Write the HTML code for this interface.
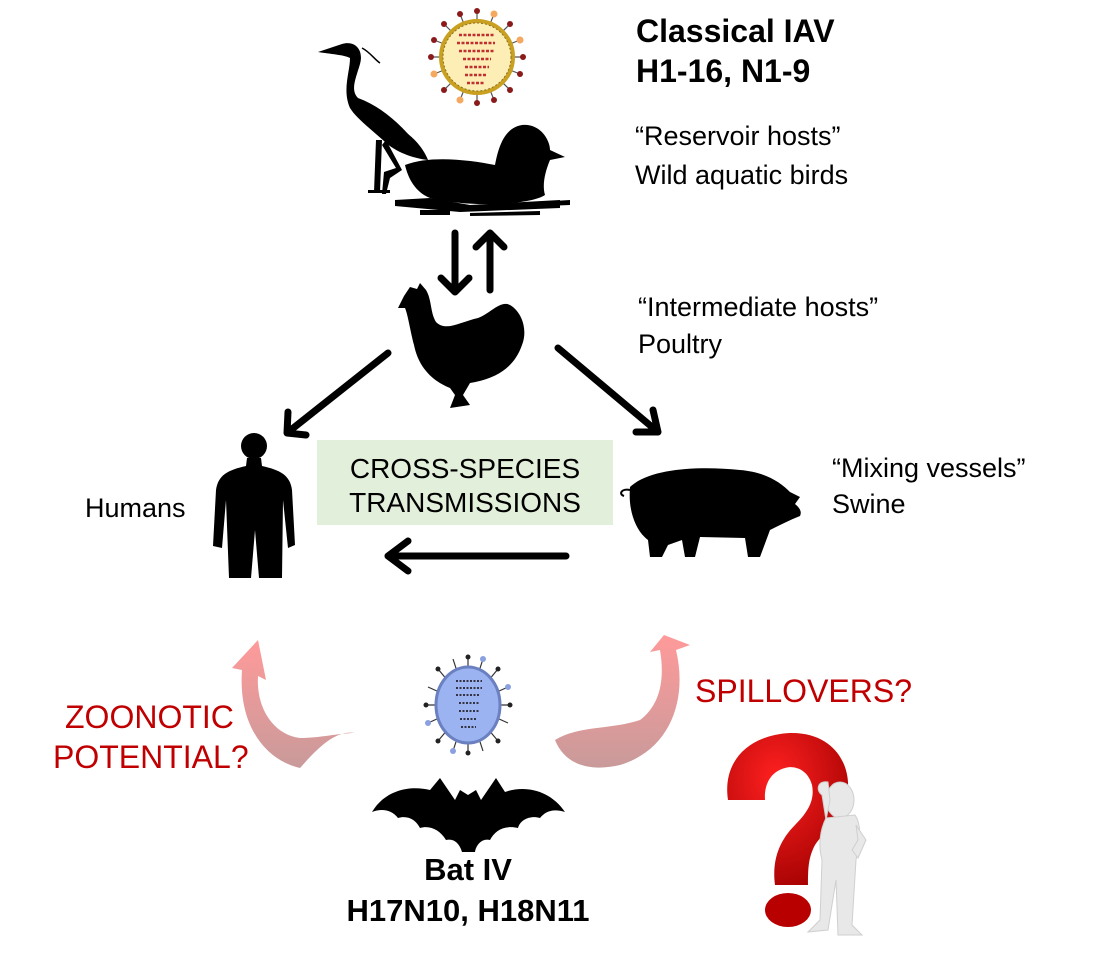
<!DOCTYPE html>
<html><head><meta charset="utf-8"><style>
html,body{margin:0;padding:0;background:#fff;}
svg{display:block;}
text{font-family:"Liberation Sans",Arial,sans-serif;}
</style></head><body>
<svg width="1093" height="955" viewBox="0 0 1093 955" xmlns="http://www.w3.org/2000/svg">
<defs>
<linearGradient id="pk" x1="0" y1="1" x2="0" y2="0">
<stop offset="0" stop-color="#c99a9a"/><stop offset="1" stop-color="#ff9a9a"/>
</linearGradient>
<radialGradient id="qm" cx="0.4" cy="0.3" r="0.8"><stop offset="0" stop-color="#ff2020"/><stop offset="1" stop-color="#a00000"/></radialGradient>
</defs>

<text x="636" y="42" font-size="32" font-weight="bold">Classical IAV</text>
<text x="636" y="82" font-size="32" font-weight="bold">H1-16, N1-9</text>
<text x="635" y="145" font-size="27">“Reservoir hosts”</text>
<text x="635" y="184" font-size="27">Wild aquatic birds</text>
<text x="638" y="316" font-size="27">“Intermediate hosts”</text>
<text x="638" y="353" font-size="27">Poultry</text>
<text x="832" y="477" font-size="27">“Mixing vessels”</text>
<text x="832" y="513" font-size="27">Swine</text>
<text x="85" y="517" font-size="27">Humans</text>

<rect x="317" y="440" width="296" height="85" fill="#e2efda"/>
<text x="465" y="478" font-size="28" text-anchor="middle">CROSS-SPECIES</text>
<text x="465" y="512" font-size="28" text-anchor="middle">TRANSMISSIONS</text>

<text x="65" y="728" font-size="32" fill="#c00000">ZOONOTIC</text>
<text x="53" y="768" font-size="32" fill="#c00000">POTENTIAL?</text>
<text x="695" y="702" font-size="32" fill="#c00000">SPILLOVERS?</text>

<text x="468" y="880" font-size="31" font-weight="bold" text-anchor="middle">Bat IV</text>
<text x="468" y="921" font-size="31" font-weight="bold" text-anchor="middle">H17N10, H18N11</text>

<g stroke="#000" stroke-width="7" fill="none" stroke-linecap="round" stroke-linejoin="round">
<path d="M455 233 L455 292 M441 278 L455 292 L469 278"/>
<path d="M490 290 L490 233 M476 247 L490 233 L504 247"/>
<path d="M388 353 L287 433 M288 412 L287 433 L306 435"/>
<path d="M558 348 L658 432 M653 410 L658 432 L636 432"/>
<path d="M566 556 L388 556 M408 541 L388 556 L408 571"/>
</g>

<path d="M355 733 C335 730 318 748 300 768 C265 760 238 725 242 670 L232 668 L258 640 L266 680 L258 676 C256 710 275 735 300 738 C320 738 340 733 355 733 Z" fill="url(#pk)"/>
<path d="M555 740 C580 725 610 730 640 720 C660 705 665 680 660 650 L650 652 L664 635 L690 645 L676 650 C688 700 670 750 620 765 C590 772 565 765 555 740 Z" fill="url(#pk)"/>

<g transform="translate(477,57)">
<g stroke="#555" stroke-width="1.2">
<line x1="0" y1="-46" x2="0" y2="46"/><line x1="-46" y1="0" x2="46" y2="0"/>
<line x1="-33" y1="-33" x2="33" y2="33"/><line x1="-33" y1="33" x2="33" y2="-33"/>
<line x1="-17" y1="-43" x2="17" y2="43"/><line x1="17" y1="-43" x2="-17" y2="43"/>
<line x1="-43" y1="-17" x2="43" y2="17"/><line x1="-43" y1="17" x2="43" y2="-17"/>
</g>
<g fill="#8b1a1a">
<circle cx="0" cy="-46" r="3"/><circle cx="0" cy="46" r="3"/><circle cx="-46" cy="0" r="3"/><circle cx="46" cy="0" r="3"/>
<circle cx="-33" cy="-33" r="3"/><circle cx="33" cy="33" r="3"/><circle cx="-33" cy="33" r="3"/><circle cx="33" cy="-33" r="3"/>
<circle cx="-17" cy="-43" r="3"/><circle cx="17" cy="43" r="3"/><circle cx="-43" cy="-17" r="3"/><circle cx="43" cy="17" r="3"/>
</g>
<g fill="#f5a860"><circle cx="17" cy="-43" r="3.5"/><circle cx="-17" cy="43" r="3.5"/><circle cx="-43" cy="17" r="3.5"/><circle cx="43" cy="-17" r="3.5"/></g>
<circle r="36" fill="#fdeeb5" stroke="#c9a020" stroke-width="4"/>
<circle r="34" fill="none" stroke="#8a7020" stroke-width="1" stroke-dasharray="2 2"/>
<g stroke="#c03030" stroke-width="2.5" stroke-dasharray="3 1.5">
<line x1="-18" y1="-22" x2="18" y2="-22"/><line x1="-20" y1="-14" x2="18" y2="-14"/><line x1="-18" y1="-6" x2="18" y2="-6"/>
<line x1="-14" y1="2" x2="14" y2="2"/><line x1="-12" y1="10" x2="12" y2="10"/><line x1="-12" y1="18" x2="10" y2="18"/><line x1="-10" y1="26" x2="8" y2="26"/>
</g>
</g>

<g fill="#000">
<!-- heron -->
<path d="M318 52 L342 44 C355 40 364 50 360 64 C356 78 350 90 358 98 C385 108 408 130 428 160 C412 158 396 152 385 142 C372 130 356 118 350 108 C342 90 350 72 350 58 C345 55 330 54 318 52 Z"/>
<path d="M380 120 C400 125 420 140 428 160 L410 150 Z"/>
<path d="M376 140 L382 140 L380 192 L374 192 Z"/>
<path d="M386 140 L402 170 L390 178 L386 194 L382 194 L384 172 L396 168 L382 145 Z"/>
<rect x="368" y="190" width="22" height="3"/>
<path d="M362 48 C370 52 375 60 380 63" stroke="#000" stroke-width="1.5" fill="none"/>
<!-- duck -->
<path d="M405 165 C430 155 470 160 495 165 C498 150 503 128 522 125 C540 123 550 140 550 150 L565 157 L550 160 C545 172 542 185 545 195 C530 205 470 208 430 198 C415 192 408 178 405 165 Z"/>
<path d="M395 200 L430 198 L470 205 L560 200 L560 208 L460 212 L395 206 Z"/>
<path d="M420 210 L450 210 L450 215 L420 215 Z"/>
<path d="M520 203 L570 200 L570 205 L520 207 Z"/>
<path d="M470 213 L540 211 L540 215 L470 216 Z"/>
</g>

<g fill="#000">
<path d="M404 296 L410 287 L417 289 L420 283 L426 290 C432 300 430 312 436 322 C446 332 460 322 478 318 C490 314 500 300 510 305 C522 312 528 330 522 345 C515 365 500 378 470 383 L463 395 L470 405 L450 408 L455 395 L450 388 C430 380 418 365 414 345 C410 330 408 315 405 308 L398 308 Z"/>
</g>

<g fill="#000">
<circle cx="254" cy="446" r="13"/>
<path d="M247 458 L261 458 L262 466 C280 470 290 475 292 490 L295 545 L288 548 L283 500 L282 578 L259 578 L255 530 L251 578 L229 578 L226 500 L222 548 L213 546 L216 490 C218 475 228 470 246 466 Z"/>
</g>

<g fill="#000">
<path d="M630 487 C650 468 700 466 740 470 C765 472 780 482 790 492 L800 497 L795 504 C800 508 802 512 800 516 C790 520 780 525 770 530 L760 557 L748 557 L745 538 L700 537 L695 557 L685 557 L682 540 L668 545 L662 557 L650 557 L648 540 C635 530 628 510 630 487 Z"/>
<path d="M630 490 C622 488 618 494 624 496" stroke="#000" stroke-width="2" fill="none"/>
</g>

<g transform="translate(468,705)">
<g stroke="#333" stroke-width="1.2">
<line x1="0" y1="-48" x2="0" y2="48"/><line x1="-42" y1="0" x2="42" y2="0"/>
<line x1="-30" y1="-36" x2="30" y2="36"/><line x1="-30" y1="36" x2="30" y2="-36"/>
<line x1="-15" y1="-46" x2="15" y2="46"/><line x1="15" y1="-46" x2="-15" y2="46"/>
<line x1="-40" y1="-18" x2="40" y2="18"/><line x1="-40" y1="18" x2="40" y2="-18"/>
</g>
<g fill="#222">
<circle cx="0" cy="-48" r="2.5"/><circle cx="0" cy="48" r="2.5"/><circle cx="-42" cy="0" r="2.5"/><circle cx="42" cy="0" r="2.5"/>
<circle cx="-30" cy="-36" r="2.5"/><circle cx="30" cy="36" r="2.5"/><circle cx="-30" cy="36" r="2.5"/><circle cx="30" cy="-36" r="2.5"/>
</g>
<g fill="#8aa0e0"><circle cx="15" cy="-46" r="3"/><circle cx="-15" cy="46" r="3"/><circle cx="-40" cy="18" r="3"/><circle cx="40" cy="-18" r="3"/></g>
<ellipse rx="32" ry="38" fill="#9bb3f0" stroke="#6a80c0" stroke-width="3"/>
<g stroke="#334" stroke-width="2" stroke-dasharray="2 1.5">
<line x1="-12" y1="-24" x2="14" y2="-24"/><line x1="-12" y1="-17" x2="14" y2="-17"/><line x1="-12" y1="-10" x2="12" y2="-10"/>
<line x1="-9" y1="-2" x2="12" y2="-2"/><line x1="-9" y1="6" x2="11" y2="6"/><line x1="-8" y1="14" x2="9" y2="14"/><line x1="-7" y1="22" x2="8" y2="22"/>
</g>
</g>

<g fill="#000">
<path d="M372 812 C385 790 410 785 430 790 L440 778 L455 800 L460 790 L468 795 L476 790 L481 800 L496 778 L505 792 C525 785 550 790 565 812 C552 808 545 812 540 818 C530 815 520 820 518 828 C505 825 495 830 490 840 C482 838 476 845 475 852 L462 852 C460 845 455 838 446 840 C440 830 430 825 420 828 C416 820 408 815 398 818 C392 810 382 808 372 812 Z"/>
</g>

<path d="M728 800 C722 760 750 735 790 733 C830 732 850 760 848 790 C846 815 825 830 815 845 C808 858 808 870 808 885 L775 885 C772 862 778 842 795 825 C808 812 815 800 812 785 C808 770 795 765 785 768 C770 772 764 785 765 800 Z" fill="url(#qm)"/>
<ellipse cx="788" cy="910" rx="23" ry="17" fill="#b80000"/>
<g fill="#e8e8e8" stroke="#cfcfcf" stroke-width="1">
<ellipse cx="840" cy="800" rx="14" ry="18"/>
<path d="M822 795 C815 790 818 780 828 782 L830 800 L826 820 Z"/>
<path d="M826 818 L855 815 C862 825 860 840 856 860 L852 925 L862 935 L838 935 L836 880 L828 930 L808 932 L820 920 L822 860 C818 845 820 830 826 818 Z"/>
<path d="M856 825 L866 840 L858 858 L852 850 L858 840 Z"/>
</g>
</svg>
</body></html>
